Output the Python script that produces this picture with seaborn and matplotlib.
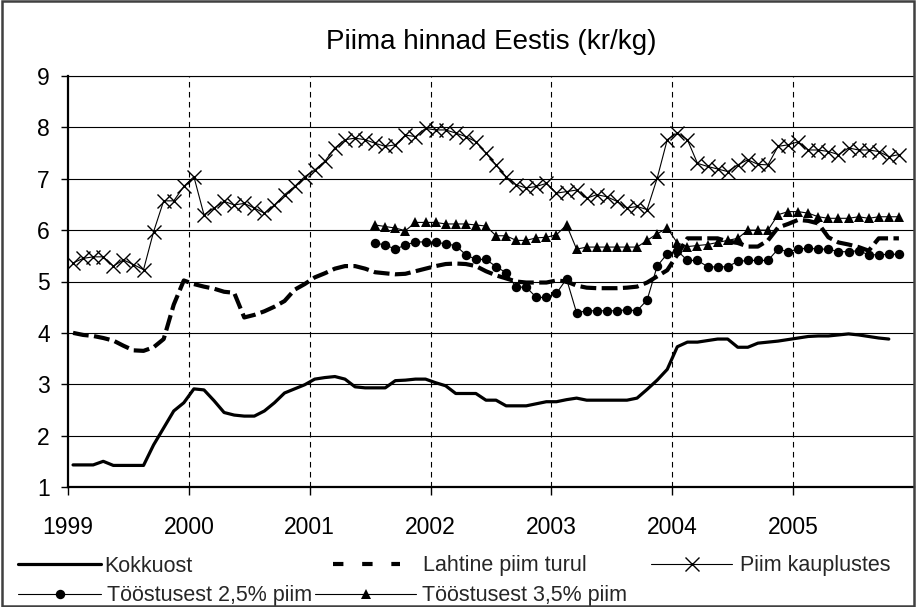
import numpy as np
import pandas as pd
import matplotlib
matplotlib.use("Agg")
import matplotlib.pyplot as plt
from matplotlib.lines import Line2D
from matplotlib.patches import Rectangle
from matplotlib import font_manager
import seaborn as sns

# ---------------- data (monthly, Jan 1999 .. Nov 2005) ----------------
years = [1999, 2000, 2001, 2002, 2003, 2004, 2005]
n_months = 83
nan = np.nan

kokkuost = [1.43, 1.43, 1.43, 1.50, 1.42, 1.42, 1.42, 1.42, 1.82, 2.15, 2.48, 2.64,
            2.91, 2.89, 2.68, 2.45, 2.40, 2.38, 2.38, 2.48, 2.64, 2.83, 2.91, 2.99,
            3.10, 3.13, 3.15, 3.10, 2.95, 2.93, 2.93, 2.93, 3.07, 3.08, 3.10, 3.10,
            3.03, 2.97, 2.82, 2.82, 2.82, 2.69, 2.69, 2.58, 2.58, 2.58, 2.62, 2.66,
            2.66, 2.70, 2.73, 2.69, 2.69, 2.69, 2.69, 2.69, 2.73, 2.90, 3.08, 3.29,
            3.73, 3.82, 3.82, 3.85, 3.88, 3.88, 3.72, 3.72, 3.80, 3.82, 3.84, 3.87,
            3.90, 3.93, 3.94, 3.94, 3.96, 3.98, 3.96, 3.93, 3.90, 3.88, nan]

lahtine = [4.00, 3.96, 3.94, 3.90, 3.85, 3.75, 3.66, 3.65, 3.72, 3.88, 4.55, 5.02,
           4.95, 4.90, 4.86, 4.80, 4.78, 4.30, 4.35, 4.42, 4.51, 4.62, 4.84, 4.95,
           5.08, 5.16, 5.25, 5.30, 5.30, 5.25, 5.18, 5.16, 5.14, 5.15, 5.20, 5.25,
           5.30, 5.34, 5.35, 5.34, 5.30, 5.20, 5.12, 5.06, 5.00, 4.98, 4.98, 4.98,
           5.02, 5.00, 4.92, 4.88, 4.87, 4.87, 4.87, 4.88, 4.90, 4.98, 5.10, 5.22,
           5.52, 5.84, 5.84, 5.84, 5.84, 5.78, 5.75, 5.68, 5.68, 5.80, 6.05, 6.12,
           6.20, 6.18, 6.13, 5.86, 5.76, 5.72, 5.67, 5.60, 5.84, 5.84, 5.84]

kauplustes = [5.36, 5.45, 5.48, 5.48, 5.30, 5.42, 5.33, 5.23, 5.97, 6.57, 6.57, 6.85,
              7.04, 6.30, 6.43, 6.56, 6.49, 6.52, 6.43, 6.33, 6.49, 6.69, 6.85, 7.04,
              7.17, 7.34, 7.60, 7.76, 7.79, 7.76, 7.69, 7.63, 7.66, 7.85, 7.82, 7.98,
              7.95, 7.95, 7.89, 7.82, 7.72, 7.50, 7.27, 7.04, 6.88, 6.82, 6.85, 6.91,
              6.72, 6.75, 6.78, 6.62, 6.69, 6.65, 6.56, 6.43, 6.46, 6.40, 7.01, 7.76,
              7.89, 7.76, 7.30, 7.24, 7.19, 7.14, 7.27, 7.37, 7.28, 7.27, 7.63, 7.66,
              7.72, 7.56, 7.56, 7.53, 7.47, 7.60, 7.56, 7.56, 7.53, 7.43, 7.47]

toostus25 = [nan] * 30 + [
    5.75, 5.71, 5.63, 5.71, 5.77, 5.77,
    5.77, 5.73, 5.70, 5.52, 5.43, 5.43, 5.29, 5.17, 4.89, 4.89, 4.69, 4.69,
    4.77, 5.05, 4.39, 4.43, 4.43, 4.43, 4.43, 4.45, 4.43, 4.64, 5.30, 5.54,
    5.60, 5.41, 5.41, 5.29, 5.28, 5.29, 5.39, 5.41, 5.41, 5.41, 5.63, 5.58,
    5.63, 5.65, 5.63, 5.63, 5.58, 5.58, 5.60, 5.52, 5.52, 5.53, 5.53]

toostus35 = [nan] * 30 + [
    6.10, 6.07, 6.04, 5.99, 6.15, 6.15,
    6.15, 6.12, 6.12, 6.12, 6.10, 6.08, 5.89, 5.89, 5.80, 5.80, 5.85, 5.86,
    5.91, 6.10, 5.63, 5.67, 5.67, 5.67, 5.67, 5.67, 5.67, 5.80, 5.93, 6.04,
    5.75, 5.68, 5.70, 5.72, 5.76, 5.80, 5.84, 6.00, 6.00, 6.00, 6.30, 6.36,
    6.36, 6.33, 6.26, 6.23, 6.23, 6.23, 6.26, 6.23, 6.26, 6.26, 6.26]

labels = ["Kokkuost", "Lahtine piim turul", "Piim kauplustes",
          "Tööstusest 2,5% piim", "Tööstusest 3,5% piim"]
title = "Piima hinnad Eestis (kr/kg)"
y_ticks = [1, 2, 3, 4, 5, 6, 7, 8, 9]

# ---------------- styling ----------------
sns.set_theme(style="white")
plt.rcParams["font.family"] = ["Liberation Sans", "DejaVu Sans"]
names = {f.name for f in font_manager.fontManager.ttflist}
if "Liberation Sans Narrow" in names:
    leg_font = {"family": ["Liberation Sans Narrow", "Liberation Sans"], "size": 19.0}
else:
    leg_font = {"family": ["Liberation Sans", "DejaVu Sans"], "size": 15.5}

W, H = 921, 607
fig = plt.figure(figsize=(W / 100, H / 100), dpi=100)
fig.patch.set_facecolor("white")
ax = fig.add_axes([68 / W, 1 - 487 / H, (914 - 68) / W, (487 - 76) / H])
ax.set_facecolor("white")

x = 1999 + (np.arange(n_months) + 0.5) / 12.0
df = pd.DataFrame({"x": x, "k": kokkuost, "l": lahtine, "p": kauplustes,
                   "t25": toostus25, "t35": toostus35})

# grid
for yv in y_ticks[1:]:
    ax.axhline(yv, color="black", lw=0.8, zorder=1)
for yr in years[1:]:
    ax.axvline(yr, color="black", lw=0.8, ls=(0, (5, 4)), zorder=1)

lahtine_ls = (0, (3.8, 1.3))
sns.lineplot(data=df, x="x", y="k", ax=ax, color="black", lw=2.3,
             estimator=None, zorder=5)
sns.lineplot(data=df, x="x", y="l", ax=ax, color="black", lw=3.0,
             linestyle=lahtine_ls, estimator=None, zorder=4)
sns.lineplot(data=df, x="x", y="p", ax=ax, color="black", lw=0.8,
             marker="x", markersize=9.5, markeredgewidth=1.0,
             markeredgecolor="black", estimator=None, zorder=4)
sns.lineplot(data=df.dropna(subset=["t25"]), x="x", y="t25", ax=ax, color="black",
             lw=0.8, marker="o", markersize=6.8, markeredgewidth=0,
             markerfacecolor="black", estimator=None, zorder=4)
sns.lineplot(data=df.dropna(subset=["t35"]), x="x", y="t35", ax=ax, color="black",
             lw=0.8, marker="^", markersize=7.5, markeredgewidth=0,
             markerfacecolor="black", estimator=None, zorder=4)

ax.set_xlim(1999, 2006)
ax.set_ylim(1, 9)
ax.set_xticks(years)
ax.set_xticklabels([str(y) for y in years])
ax.set_yticks(y_ticks)
ax.set_yticklabels([str(v) for v in y_ticks])
ax.set_xlabel("")
ax.set_ylabel("")
ax.tick_params(axis="x", direction="out", length=6, width=1, pad=15,
               labelsize=16.5, colors="black", bottom=True)
ax.tick_params(axis="y", direction="out", length=5, width=1, pad=8,
               labelsize=16.5, colors="black", left=True)
for s in ["left", "bottom"]:
    ax.spines[s].set_color("black")
    ax.spines[s].set_linewidth(1.6)
ax.spines["top"].set_visible(True)
ax.spines["top"].set_color("black")
ax.spines["top"].set_linewidth(0.8)
ax.spines["right"].set_visible(False)

fig.text(491 / W, 1 - 42 / H, title, ha="center", va="center", fontsize=20,
         color="black")

# figure border
fig.patches.append(Rectangle((2 / W, 1 / H), (914 - 2) / W, (H - 2) / H,
                             transform=fig.transFigure, fill=False,
                             edgecolor="#404040", lw=1.8, zorder=10))

# legend (one entry each, placed as in the reference)
fs_px = leg_font["size"] * 100 / 72.0
entries = [
    (Line2D([], [], color="black", lw=2.3), labels[0], 18, 101, 104, 566),
    (Line2D([], [], color="black", lw=3.0, linestyle=(0, (2.5, 4.5))),
     labels[1], 333, 400, 423, 566),
    (Line2D([], [], color="black", lw=0.8, marker="x", markersize=9.5,
            markeredgewidth=1.0), labels[2], 651, 732, 740, 566),
    (Line2D([], [], color="black", lw=0.8, marker="o", markersize=6.8,
            markeredgewidth=0), labels[3], 18, 101, 107, 596),
    (Line2D([], [], color="black", lw=0.8, marker="^", markersize=7.5,
            markeredgewidth=0), labels[4], 315, 416, 422, 596),
]
for h, lab, x0, x1, xt, yc in entries:
    fig.legend(handles=[h], labels=[lab], loc="center left",
               bbox_to_anchor=(x0 / W, 1 - yc / H), frameon=False,
               borderpad=0, borderaxespad=0, numpoints=1,
               handlelength=(x1 - x0) / fs_px,
               handletextpad=(xt - x1) / fs_px, prop=leg_font)

fig.savefig("out.png", dpi=100, facecolor="white")
